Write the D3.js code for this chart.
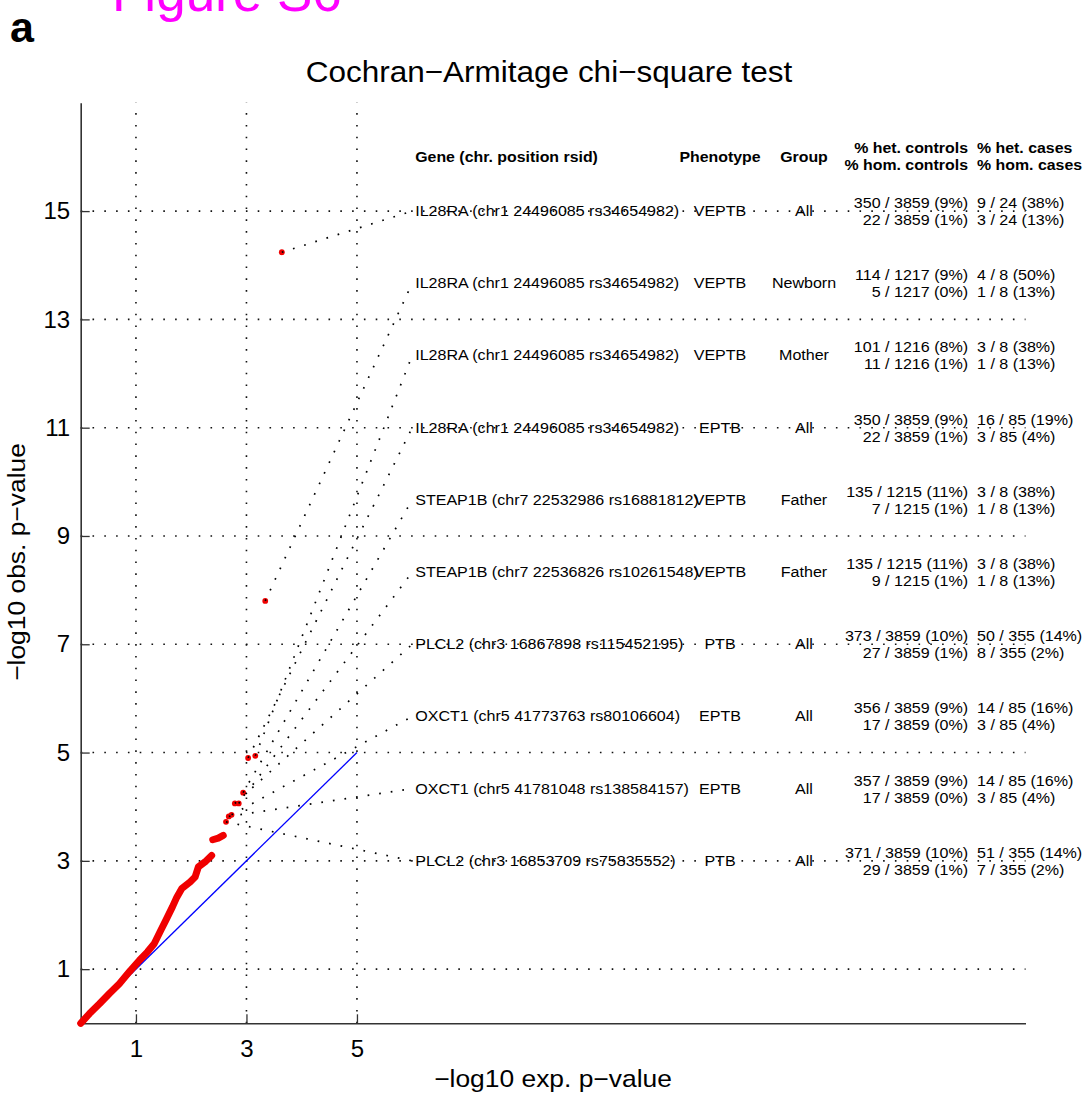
<!DOCTYPE html>
<html><head><meta charset="utf-8">
<script src="https://cdn.jsdelivr.net/npm/d3@7"></script>
<style>
html,body{margin:0;padding:0;background:#fff;}
svg{display:block;font-family:"Liberation Sans",Arial,Helvetica,sans-serif;}
</style></head>
<body><svg id="c" width="1083" height="1095"></svg>
<script>
// ---------- data ----------
const xTicks = [1, 3, 5];
const yTicks = [1, 3, 5, 7, 9, 11, 13, 15];
const curveExp = [0, 0.16, 0.34, 0.52, 0.70, 0.88, 1.06, 1.21, 1.33, 1.45, 1.54, 1.66, 1.74, 1.83, 1.98, 2.07, 2.13, 2.25, 2.37];
const curveObs = [0, 0.18, 0.36, 0.55, 0.73, 0.95, 1.16, 1.32, 1.47, 1.72, 1.90, 2.15, 2.33, 2.49, 2.61, 2.70, 2.89, 2.98, 3.10];
const cluster2Exp = [2.39, 2.49, 2.58];
const cluster2Obs = [3.39, 3.42, 3.47];
// top 10 hits
const hitExp = [3.64, 3.34, 3.16, 3.03, 2.94, 2.86, 2.79, 2.73, 2.68, 2.63];
const hitObs = [14.24, 7.80, 4.94, 4.90, 4.26, 4.06, 4.06, 3.85, 3.82, 3.72];
const genes = [
  "IL28RA (chr1 24496085 rs34654982)",
  "IL28RA (chr1 24496085 rs34654982)",
  "IL28RA (chr1 24496085 rs34654982)",
  "IL28RA (chr1 24496085 rs34654982)",
  "STEAP1B (chr7 22532986 rs16881812)",
  "STEAP1B (chr7 22536826 rs10261548)",
  "PLCL2 (chr3 16867898 rs115452195)",
  "OXCT1 (chr5 41773763 rs80106604)",
  "OXCT1 (chr5 41781048 rs138584157)",
  "PLCL2 (chr3 16853709 rs75835552)"];
const phenotypes = ["VEPTB","VEPTB","VEPTB","EPTB","VEPTB","VEPTB","PTB","EPTB","EPTB","PTB"];
const groups = ["All","Newborn","Mother","All","Father","Father","All","All","All","All"];
const hetControls = ["350 / 3859 (9%)","114 / 1217 (9%)","101 / 1216 (8%)","350 / 3859 (9%)","135 / 1215 (11%)","135 / 1215 (11%)","373 / 3859 (10%)","356 / 3859 (9%)","357 / 3859 (9%)","371 / 3859 (10%)"];
const homControls = ["22 / 3859 (1%)","5 / 1217 (0%)","11 / 1216 (1%)","22 / 3859 (1%)","7 / 1215 (1%)","9 / 1215 (1%)","27 / 3859 (1%)","17 / 3859 (0%)","17 / 3859 (0%)","29 / 3859 (1%)"];
const hetCases = ["9 / 24 (38%)","4 / 8 (50%)","3 / 8 (38%)","16 / 85 (19%)","3 / 8 (38%)","3 / 8 (38%)","50 / 355 (14%)","14 / 85 (16%)","14 / 85 (16%)","51 / 355 (14%)"];
const homCases = ["3 / 24 (13%)","1 / 8 (13%)","1 / 8 (13%)","3 / 85 (4%)","1 / 8 (13%)","1 / 8 (13%)","8 / 355 (2%)","3 / 85 (4%)","3 / 85 (4%)","7 / 355 (2%)"];
const headers = {gene:"Gene (chr. position rsid)", pheno:"Phenotype", group:"Group",
  ctrl:["% het. controls","% hom. controls"], cases:["% het. cases","% hom. cases"]};

// ---------- drawing ----------
const svg = d3.select("#c");
const x = d3.scaleLinear().domain([0, 17.1]).range([80.7, 1025.5]);
const y = d3.scaleLinear().domain([0, 17]).range([1023.3, 102.8]);
const INK = "#000";

function txt(g, px, py, s, o = {}) {
  let tr = `translate(${px},${py})`;
  if (o.rotate) tr += ` rotate(${o.rotate})`;
  tr += ` scale(${o.sx || 1},1)`;
  return g.append("text").attr("transform", tr)
    .attr("font-size", o.size || 14)
    .attr("font-weight", o.weight || "normal")
    .attr("text-anchor", o.anchor || "start")
    .attr("fill", o.fill || INK)
    .text(s);
}

// Figure label and panel letter
txt(svg, 112, 11, "Figure S6", {size: 53, fill: "#ff00ff"});
txt(svg, 10, 42, "a", {size: 43, weight: "bold"});
// title
txt(svg, 549, 82, "Cochran\u2212Armitage chi\u2212square test", {size: 30, anchor: "middle", sx: 1.05});

// grid
const grid = svg.append("g").attr("stroke", "#111").attr("stroke-width", 1.6)
  .attr("stroke-dasharray", "1.6,10.2").attr("fill", "none");
xTicks.forEach(t => grid.append("line").attr("x1", x(t)).attr("x2", x(t)).attr("y1", y(0)).attr("y2", y(17)));
yTicks.forEach(t => grid.append("line").attr("x1", x(0)).attr("x2", x(17.1)).attr("y1", y(t)).attr("y2", y(t)));

// axes
const xAxis = d3.axisBottom(x).tickValues(xTicks).tickSizeInner(-9).tickSizeOuter(0).tickPadding(17).tickFormat(d3.format("d"));
const yAxis = d3.axisLeft(y).tickValues(yTicks).tickSizeInner(-9).tickSizeOuter(0).tickPadding(10.5).tickFormat(d3.format("d"));
const gx = svg.append("g").attr("transform", `translate(0,${y(0)})`).call(xAxis);
const gy = svg.append("g").attr("transform", `translate(${x(0)},0)`).call(yAxis);
[gx, gy].forEach(g => {
  g.attr("font-family", null).attr("font-size", 24);
  g.select(".domain").attr("stroke", "#333").attr("stroke-width", 1.6);
  g.selectAll(".tick line").attr("stroke", "#333").attr("stroke-width", 1.3);
  g.selectAll(".tick text").attr("fill", INK);
});

// axis labels
txt(svg, 553, 1087, "\u2212log10 exp. p\u2212value", {size: 24, anchor: "middle", sx: 1.1});
txt(svg, 25, 562, "\u2212log10 obs. p\u2212value", {size: 24, anchor: "middle", rotate: -90, sx: 1.1});

// expected line
svg.append("line").attr("x1", x(0)).attr("y1", y(0)).attr("x2", x(5)).attr("y2", y(5))
  .attr("stroke", "#0000ff").attr("stroke-width", 1.3);

// QQ points
const RED = "#f00000";
const line = d3.line().x(d => x(d[0])).y(d => y(d[1]));
const seg1 = curveExp.map((e, i) => [e, curveObs[i]]);
const seg2 = cluster2Exp.map((e, i) => [e, cluster2Obs[i]]);
[seg1, seg2].forEach(s => svg.append("path").attr("d", line(s)).attr("fill", "none")
  .attr("stroke", RED).attr("stroke-width", 7).attr("stroke-linecap", "round").attr("stroke-linejoin", "round"));
svg.append("g").selectAll("circle").data(hitExp.map((e, i) => [e, hitObs[i]])).join("circle")
  .attr("cx", d => x(d[0])).attr("cy", d => y(d[1])).attr("r", 2.9).attr("fill", RED);

// annotation rows
const labelX = 6;
const rowY = i => 15 - i * (12 / 9);
const conn = svg.append("g").attr("stroke", "#000").attr("stroke-width", 1.7)
  .attr("stroke-dasharray", "1.7,10").attr("fill", "none");
hitExp.forEach((e, i) => conn.append("line")
  .attr("x1", x(e)).attr("y1", y(hitObs[i])).attr("x2", x(labelX)).attr("y2", y(rowY(i))));

const ann = svg.append("g");
const SX = 1.147, FS = 14;
const colGene = x(labelX) + 3, colPheno = 720, colGroup = 804, colCtrl = 968, colCase = 977;
// headers
txt(ann, colGene, 162, headers.gene, {size: FS, weight: "bold", sx: 1.135});
txt(ann, colPheno, 162, headers.pheno, {size: FS, weight: "bold", sx: 1.135, anchor: "middle"});
txt(ann, colGroup, 162, headers.group, {size: FS, weight: "bold", sx: 1.135, anchor: "middle"});
txt(ann, colCtrl, 153, headers.ctrl[0], {size: FS, weight: "bold", sx: 1.135, anchor: "end"});
txt(ann, colCtrl, 170, headers.ctrl[1], {size: FS, weight: "bold", sx: 1.135, anchor: "end"});
txt(ann, colCase, 153, headers.cases[0], {size: FS, weight: "bold", sx: 1.135});
txt(ann, colCase, 170, headers.cases[1], {size: FS, weight: "bold", sx: 1.135});
genes.forEach((gname, i) => {
  const cy = y(rowY(i));
  txt(ann, colGene, cy + 5, gname, {size: FS, sx: SX});
  txt(ann, colPheno, cy + 5, phenotypes[i], {size: FS, sx: SX, anchor: "middle"});
  txt(ann, colGroup, cy + 5, groups[i], {size: FS, sx: SX, anchor: "middle"});
  txt(ann, colCtrl, cy - 3, hetControls[i], {size: FS, sx: SX, anchor: "end"});
  txt(ann, colCtrl, cy + 14, homControls[i], {size: FS, sx: SX, anchor: "end"});
  txt(ann, colCase, cy - 3, hetCases[i], {size: FS, sx: SX});
  txt(ann, colCase, cy + 14, homCases[i], {size: FS, sx: SX});
});
</script></body></html>
